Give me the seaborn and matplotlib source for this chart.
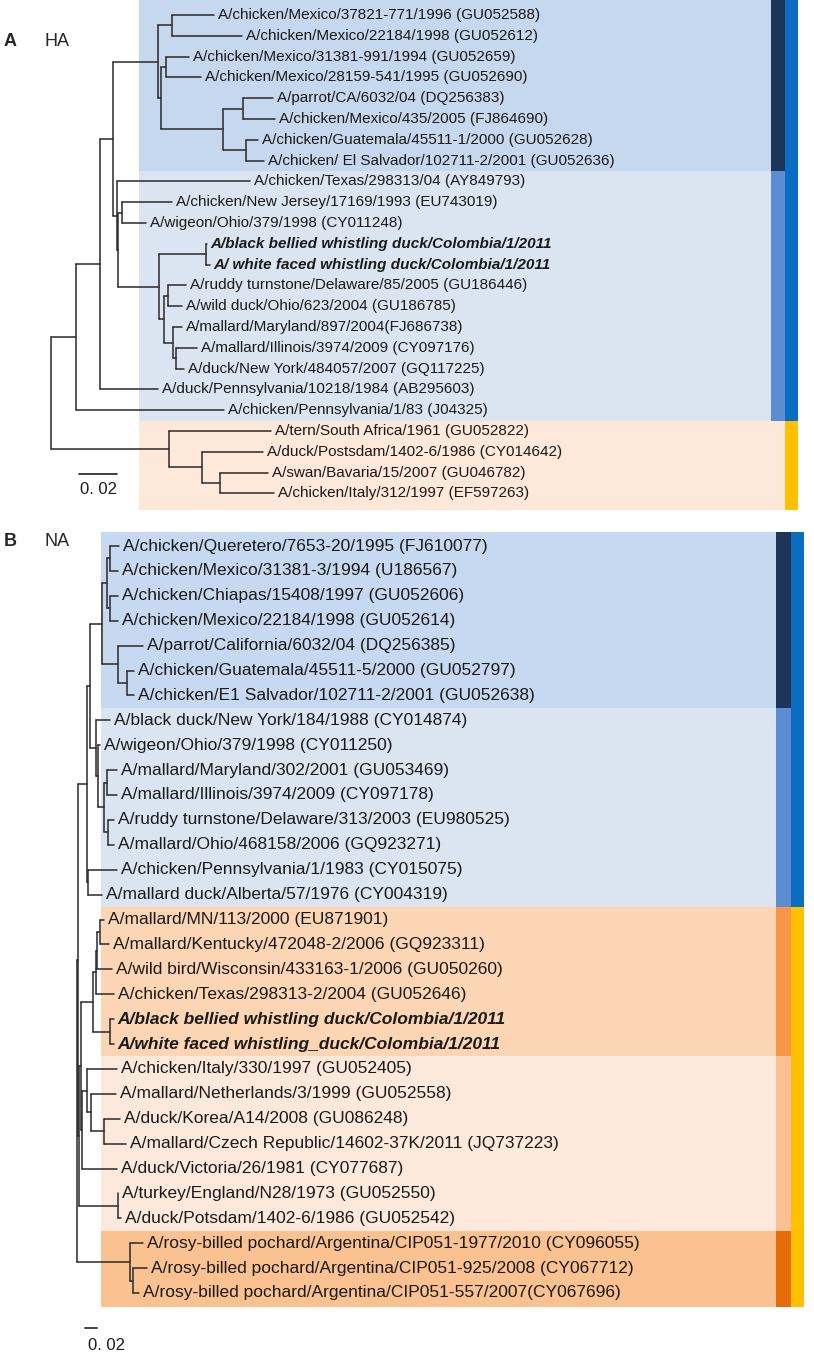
import numpy as np
import pandas as pd
import matplotlib
matplotlib.use("Agg")
import matplotlib.pyplot as plt
import seaborn as sns

# ---------------- DATA ----------------
ha_labels = [
    "A/chicken/Mexico/37821-771/1996 (GU052588)",
    "A/chicken/Mexico/22184/1998 (GU052612)",
    "A/chicken/Mexico/31381-991/1994 (GU052659)",
    "A/chicken/Mexico/28159-541/1995 (GU052690)",
    "A/parrot/CA/6032/04 (DQ256383)",
    "A/chicken/Mexico/435/2005 (FJ864690)",
    "A/chicken/Guatemala/45511-1/2000 (GU052628)",
    "A/chicken/ El Salvador/102711-2/2001 (GU052636)",
    "A/chicken/Texas/298313/04 (AY849793)",
    "A/chicken/New Jersey/17169/1993 (EU743019)",
    "A/wigeon/Ohio/379/1998 (CY011248)",
    "A/black bellied whistling duck/Colombia/1/2011",
    "A/ white faced whistling duck/Colombia/1/2011",
    "A/ruddy turnstone/Delaware/85/2005 (GU186446)",
    "A/wild duck/Ohio/623/2004 (GU186785)",
    "A/mallard/Maryland/897/2004(FJ686738)",
    "A/mallard/Illinois/3974/2009 (CY097176)",
    "A/duck/New York/484057/2007 (GQ117225)",
    "A/duck/Pennsylvania/10218/1984 (AB295603)",
    "A/chicken/Pennsylvania/1/83 (J04325)",
    "A/tern/South Africa/1961 (GU052822)",
    "A/duck/Postsdam/1402-6/1986 (CY014642)",
    "A/swan/Bavaria/15/2007 (GU046782)",
    "A/chicken/Italy/312/1997 (EF597263)",
]
ha_bold = [11, 12]
ha_tip_depth = [0.0858, 0.1005, 0.0726, 0.0789, 0.1168, 0.1179, 0.1089, 0.1121,
                0.1047, 0.0637, 0.0500, 0.0821, 0.0837, 0.0711, 0.0689, 0.0689,
                0.0768, 0.0700, 0.0563, 0.0911, 0.1158, 0.1116, 0.1142, 0.1174]
ha_node_ids = ["N12", "N34", "N56", "N78", "N58", "N38", "Ntop",
               "Nnw", "Nbold", "Nrw", "Nin", "Nm", "Ni", "Nh", "Nf", "Nd",
               "Nc", "Nb", "Na", "Nr", "Nq", "Np", "root"]
ha_node_depth = [0.0637, 0.0605, 0.1011, 0.1026, 0.0905, 0.0579, 0.0563,
                 0.0374, 0.0816, 0.0616, 0.0658, 0.0642, 0.0595, 0.0568, 0.0353, 0.0347,
                 0.0326, 0.0258, 0.0132, 0.0889, 0.0795, 0.0621, 0.0]
ha_node_children = [[0, 1], [2, 3], [4, 5], [6, 7], ["N56", "N78"], ["N34", "N58"], ["N12", "N38"],
                    [9, 10], [11, 12], [13, 14], [16, 17], [15, "Nin"], ["Nrw", "Nm"], ["Nbold", "Ni"],
                    ["Nnw", "Nh"], [8, "Nf"], ["Ntop", "Nd"], ["Nc", 18], ["Nb", 19],
                    [22, 23], [21, "Nr"], [20, "Nq"], ["Na", "Np"]]
# clade shading (first leaf, last leaf)
ha_bg_ranges = [(0, 7), (8, 19), (20, 23)]
ha_inner_bar = [(0, 7), (8, 19)]
ha_outer_bar = [(0, 19), (20, 23)]

na_labels = [
    "A/chicken/Queretero/7653-20/1995 (FJ610077)",
    "A/chicken/Mexico/31381-3/1994 (U186567)",
    "A/chicken/Chiapas/15408/1997 (GU052606)",
    "A/chicken/Mexico/22184/1998 (GU052614)",
    "A/parrot/California/6032/04 (DQ256385)",
    "A/chicken/Guatemala/45511-5/2000 (GU052797)",
    "A/chicken/E1 Salvador/102711-2/2001 (GU052638)",
    "A/black duck/New York/184/1988 (CY014874)",
    "A/wigeon/Ohio/379/1998 (CY011250)",
    "A/mallard/Maryland/302/2001 (GU053469)",
    "A/mallard/Illinois/3974/2009 (CY097178)",
    "A/ruddy turnstone/Delaware/313/2003 (EU980525)",
    "A/mallard/Ohio/468158/2006 (GQ923271)",
    "A/chicken/Pennsylvania/1/1983 (CY015075)",
    "A/mallard duck/Alberta/57/1976 (CY004319)",
    "A/mallard/MN/113/2000 (EU871901)",
    "A/mallard/Kentucky/472048-2/2006 (GQ923311)",
    "A/wild bird/Wisconsin/433163-1/2006 (GU050260)",
    "A/chicken/Texas/298313-2/2004 (GU052646)",
    "A/black bellied whistling duck/Colombia/1/2011",
    "A/white faced whistling_duck/Colombia/1/2011",
    "A/chicken/Italy/330/1997 (GU052405)",
    "A/mallard/Netherlands/3/1999 (GU052558)",
    "A/duck/Korea/A14/2008 (GU086248)",
    "A/mallard/Czech Republic/14602-37K/2011 (JQ737223)",
    "A/duck/Victoria/26/1981 (CY077687)",
    "A/turkey/England/N28/1973 (GU052550)",
    "A/duck/Potsdam/1402-6/1986 (GU052542)",
    "A/rosy-billed pochard/Argentina/CIP051-1977/2010 (CY096055)",
    "A/rosy-billed pochard/Argentina/CIP051-925/2008 (CY067712)",
    "A/rosy-billed pochard/Argentina/CIP051-557/2007(CY067696)",
]
na_bold = [19, 20]
na_tip_depth = [0.0700, 0.0683, 0.0683, 0.0683, 0.1100, 0.0950, 0.0950, 0.0550,
                0.0383, 0.0667, 0.0667, 0.0617, 0.0617, 0.0667, 0.0417, 0.0450,
                0.0533, 0.0583, 0.0617, 0.0617, 0.0617, 0.0667, 0.0650, 0.0717,
                0.0817, 0.0667, 0.0683, 0.0733, 0.1100, 0.1167, 0.1033]
na_node_ids = ["N12", "N34", "N14", "N67", "N57", "Ndark", "N1011", "N1213", "N1013",
               "N913", "N813", "N113", "N1415", "N115", "N1617", "N1618", "N1619",
               "N2021", "N1621", "N2425", "N2325", "N2225", "N2226", "N2728",
               "N1626", "N1628", "N128", "N3031", "N2931", "root"]
na_node_depth = [0.0550, 0.0550, 0.0500, 0.0833, 0.0683, 0.0417, 0.0500, 0.0517, 0.0450,
                 0.0350, 0.0317, 0.0217, 0.0183, 0.0167, 0.0383, 0.0333, 0.0317,
                 0.0550, 0.0267, 0.0450, 0.0233, 0.0167, 0.0083, 0.0683,
                 0.0067, 0.0033, 0.0017, 0.0933, 0.0883, 0.0]
na_node_children = [[0, 1], [2, 3], ["N12", "N34"], [5, 6], [4, "N67"], ["N14", "N57"],
                    [9, 10], [11, 12], ["N1011", "N1213"], [8, "N1013"], [7, "N913"],
                    ["Ndark", "N813"], [13, 14], ["N113", "N1415"], [15, 16], ["N1617", 17],
                    ["N1618", 18], [19, 20], ["N1619", "N2021"], [23, 24], [22, "N2425"],
                    [21, "N2325"], ["N2225", 25], [26, 27], ["N1621", "N2226"],
                    ["N1626", "N2728"], ["N115", "N1628"], [29, 30], [28, "N3031"],
                    ["N128", "N2931"]]
na_bg_ranges = [(0, 6), (7, 14), (15, 20), (21, 27), (28, 30)]
na_inner_bar = [(0, 6), (7, 14), (15, 20), (21, 27), (28, 30)]
na_outer_bar = [(0, 14), (15, 30)]

scale_len = 0.02

# ---------------- STYLE ----------------
sns.set_style("white")
plt.rcParams["font.family"] = ["Liberation Sans", "DejaVu Sans"]

W, H = 814, 1356
fig = plt.figure(figsize=(W / 100, H / 100), dpi=100)

LINE = "#2a2a2a"


def build(tip_depth, node_ids, node_depth, node_children):
    pos = {i: (d, float(i)) for i, d in enumerate(tip_depth)}
    for nid, d, ch in zip(node_ids, node_depth, node_children):
        ys = [pos[c][1] for c in ch]
        pos[nid] = (d, (ys[0] + ys[-1]) / 2)
    rows = []
    k = 0
    for nid, d, ch in zip(node_ids, node_depth, node_children):
        ys = [pos[c][1] for c in ch]
        rows += [(k, d, ys[0]), (k, d, ys[-1])]
        k += 1
        for c in ch:
            cx, cy = pos[c]
            rows += [(k, d, cy), (k, cx, cy)]
            k += 1
    return pd.DataFrame(rows, columns=["seg", "x", "y"])


def panel(ax, labels, bold, tip_depth, node_ids, node_depth, node_children,
          xlim, ylim, bg_x, bg_ranges, bg_cols, inner_x, inner_ranges, inner_cols,
          outer_x, outer_ranges, outer_cols, top_edge, bottom_edge, fs,
          scale_xy, scale_txt_xy):
    ax.set_xlim(*xlim)
    ax.set_ylim(*ylim)
    ax.axis("off")

    def span(a, b):
        lo = top_edge if a == 0 else a - 0.5
        hi = bottom_edge if b == len(labels) - 1 else b + 0.5
        return lo, hi

    for (a, b), c in zip(bg_ranges, bg_cols):
        lo, hi = span(a, b)
        ax.axhspan(lo, hi, xmin=bg_x[0], xmax=inner_x[1], color=c, lw=0, zorder=0)
    for (a, b), c in zip(inner_ranges, inner_cols):
        lo, hi = span(a, b)
        ax.axhspan(lo, hi, xmin=inner_x[0], xmax=inner_x[1], color=c, lw=0, zorder=0.5)
    for (a, b), c in zip(outer_ranges, outer_cols):
        lo, hi = span(a, b)
        ax.axhspan(lo, hi, xmin=outer_x[0], xmax=outer_x[1], color=c, lw=0, zorder=0.5)

    df = build(tip_depth, node_ids, node_depth, node_children)
    sns.lineplot(data=df, x="x", y="y", units="seg", estimator=None, sort=False,
                 color=LINE, lw=1.1, ax=ax, legend=False, zorder=2)
    ax.set_xlabel("")
    ax.set_ylabel("")

    for i, (lab, d) in enumerate(zip(labels, tip_depth)):
        kw = dict(fontweight="bold", fontstyle="italic") if i in bold else {}
        ax.annotate(lab, xy=(d, i), xytext=(2.6, 0), textcoords="offset points",
                    va="center", ha="left", fontsize=fs, color="#1a1a1a", zorder=3, **kw)

    sx, sy = scale_xy
    sdf = pd.DataFrame({"x": [sx, sx + scale_len], "y": [sy, sy]})
    sns.lineplot(data=sdf, x="x", y="y", color="#333333", lw=1.3, ax=ax, legend=False)
    ax.set_xlabel("")
    ax.set_ylabel("")
    ax.text(scale_txt_xy[0], scale_txt_xy[1], "0. 02", ha="center", va="center",
            fontsize=12, color="#1a1a1a")


# Panel A (HA): occupies pixel rows 0..515
axA = fig.add_axes([0, 1 - 515 / H, 1, 515 / H])
pxA, rootA, y0A, dyA = 1900.0, 51.0, 15.0, 20.8
panel(axA, ha_labels, ha_bold, ha_tip_depth, ha_node_ids, ha_node_depth, ha_node_children,
      xlim=(-rootA / pxA, (W - rootA) / pxA),
      ylim=((515 - y0A) / dyA, (0 - y0A) / dyA),
      bg_x=(139 / W, 772 / W), bg_ranges=ha_bg_ranges,
      bg_cols=["#c6d8ee", "#dbe5f2", "#fde8d9"],
      inner_x=(771 / W, 785 / W), inner_ranges=ha_inner_bar,
      inner_cols=["#1d3557", "#5b8dd3"],
      outer_x=(785 / W, 798 / W), outer_ranges=ha_outer_bar,
      outer_cols=["#0a6dc2", "#ffc000"],
      top_edge=(0 - y0A) / dyA, bottom_edge=(510 - y0A) / dyA, fs=11,
      scale_xy=((79 - rootA) / pxA, (474 - y0A) / dyA),
      scale_txt_xy=((98 - rootA) / pxA, (489 - y0A) / dyA))

# Panel B (NA): occupies pixel rows 520..1356
axB = fig.add_axes([0, 0, 1, (H - 520) / H])
pxB, rootB, y0B, dyB = 600.0, 77.0, 546.0, 24.9
panel(axB, na_labels, na_bold, na_tip_depth, na_node_ids, na_node_depth, na_node_children,
      xlim=(-rootB / pxB, (W - rootB) / pxB),
      ylim=((H - y0B) / dyB, (520 - y0B) / dyB),
      bg_x=(101 / W, 776 / W), bg_ranges=na_bg_ranges,
      bg_cols=["#c6d9f0", "#dbe5f1", "#fcd5b5", "#fde9db", "#fac191"],
      inner_x=(776 / W, 791 / W), inner_ranges=na_inner_bar,
      inner_cols=["#1d3557", "#5b8dd3", "#f79646", "#fbbf94", "#e46c0a"],
      outer_x=(791 / W, 804 / W), outer_ranges=na_outer_bar,
      outer_cols=["#0a6dc2", "#ffc000"],
      top_edge=(532 - y0B) / dyB, bottom_edge=(1307 - y0B) / dyB, fs=12.5,
      scale_xy=((85 - rootB) / pxB, (1328 - y0B) / dyB),
      scale_txt_xy=((106 - rootB) / pxB, (1345 - y0B) / dyB))

# panel letters
fig.text(4 / W, 1 - 42 / H, "A", fontsize=13, fontweight="bold", va="center", ha="left")
fig.text(45 / W, 1 - 42 / H, "HA", fontsize=13, va="center", ha="left")
fig.text(4 / W, 1 - 541 / H, "B", fontsize=13, fontweight="bold", va="center", ha="left")
fig.text(45 / W, 1 - 541 / H, "NA", fontsize=13, va="center", ha="left")

fig.savefig("out.png", dpi=100, facecolor="white")
